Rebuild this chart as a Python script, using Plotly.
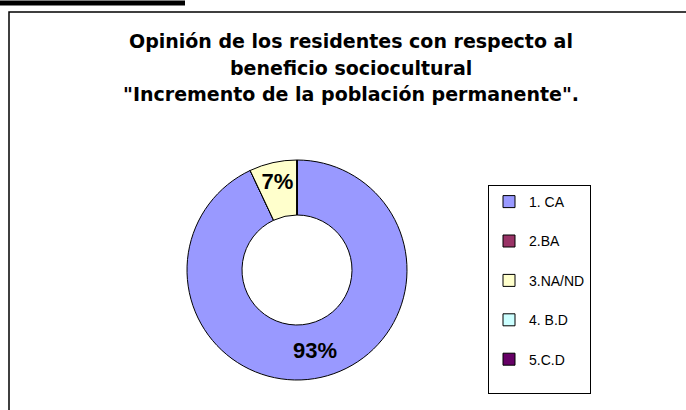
import plotly.graph_objects as go

labels = ["1. CA", "2.BA", "3.NA/ND", "4. B.D", "5.C.D"]
values = [93, 0, 7, 0, 0]
colors = ["#9999FF", "#993366", "#FFFFCC", "#CCFFFF", "#660066"]
title_lines = [
    "Opinión de los residentes con respecto al",
    "beneficio sociocultural",
    "\"Incremento de la población permanente\".",
]

W, H = 686, 410
text = [f"{v}%" if v else "" for v in values]
# second empty line gives the taller legend rows of the original
legend_labels = [f"{l}<br> " for l in labels]

fig = go.Figure(go.Pie(
    labels=legend_labels,
    values=values,
    text=text,
    textinfo="text",
    textposition="inside",
    insidetextorientation="horizontal",
    textfont=dict(family="Liberation Sans, Arial", size=22, color="black", weight="bold"),
    marker=dict(colors=colors, line=dict(color="black", width=1)),
    hole=0.5,
    sort=False,
    direction="clockwise",
    rotation=0,
    domain=dict(x=[187 / W, 407 / W], y=[30 / H, 250 / H]),
    showlegend=True,
))

title_font = dict(family="DejaVu Sans", size=19, weight="bold", color="black")
title_centers = [41, 68, 94]
annotations = [
    dict(text=t, xref="paper", yref="paper", x=351 / W, y=1 - yc / H,
         xanchor="center", yanchor="middle", showarrow=False, font=title_font)
    for t, yc in zip(title_lines, title_centers)
]

fig.update_layout(
    width=W, height=H,
    margin=dict(l=0, r=0, t=0, b=0),
    paper_bgcolor="white",
    plot_bgcolor="white",
    font=dict(family="Liberation Sans, Arial", color="black"),
    annotations=annotations,
    uniformtext=dict(minsize=22, mode="show"),
    legend=dict(
        x=488 / W, xanchor="left",
        y=1 - 185 / H, yanchor="top",
        bordercolor="black", borderwidth=1,
        bgcolor="white",
        font=dict(size=14, color="black"),
        itemwidth=30,
        valign="top",
    ),
    shapes=[
        dict(type="rect", xref="paper", yref="paper",
             x0=9 / W, x1=1.01, y0=-0.01, y1=1 - 12 / H,
             line=dict(color="black", width=1.5), layer="below"),
        dict(type="line", xref="paper", yref="paper",
             x0=0, x1=185 / W, y0=1 - 3 / H, y1=1 - 3 / H,
             line=dict(color="black", width=5)),
    ],
)

fig.write_html("out.html", config={"displayModeBar": False},
               post_script="document.body.style.margin='0';")
